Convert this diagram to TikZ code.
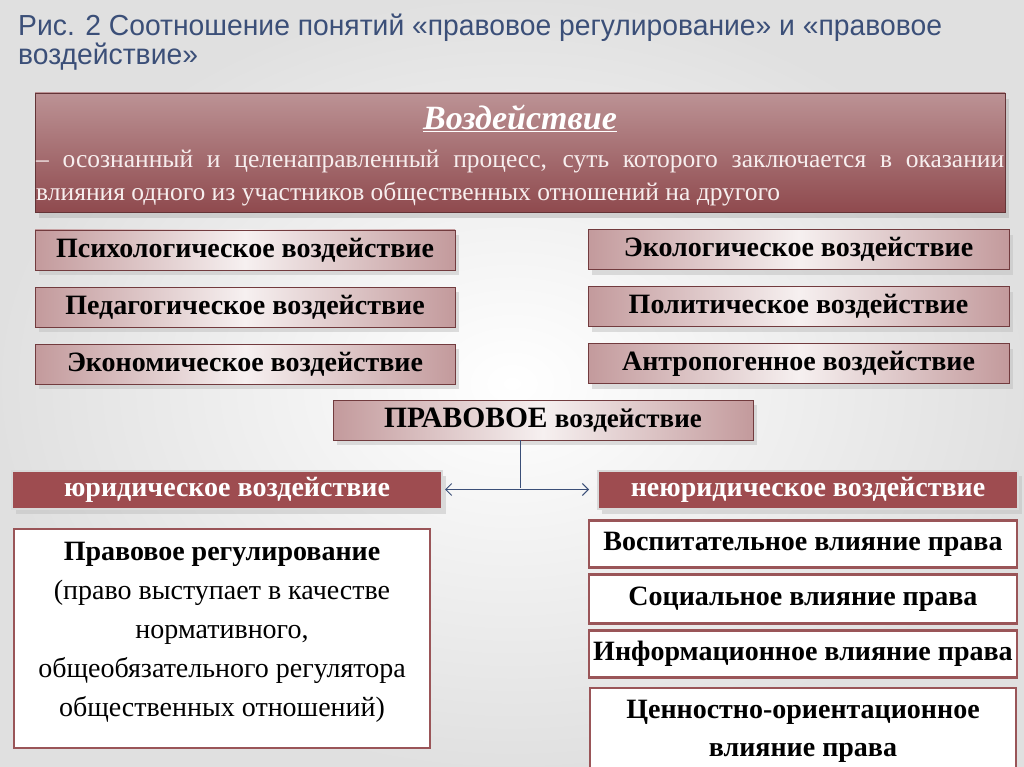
\documentclass[tikz,border=0pt]{standalone}
\usepackage{fontspec}
\setmainfont{Liberation Serif}
\newfontfamily\titlefont[FakeStretch=0.975]{Liberation Sans}
\usepackage{tikz}
\usetikzlibrary{arrows.meta}
\usetikzlibrary{shadows, calc}

\definecolor{titleblue}{HTML}{3B4F78}
\definecolor{rosedark}{HTML}{8F4A4E}
\definecolor{roseedge}{HTML}{C39A9C}
\definecolor{roselight}{HTML}{F6F0F0}
\definecolor{jurred}{HTML}{9E4C50}
\definecolor{frame}{HTML}{9A5558}
\definecolor{bodytext}{HTML}{F7EEEE}

\tikzset{
    kindbox/.style={draw=rosedark!80!black, line width=0.8pt,
        left color=roseedge, right color=roseedge, middle color=roselight,
        minimum height=40pt, inner sep=0pt,
        font=\fontsize{28}{30}\selectfont\bfseries,
        drop shadow={shadow xshift=4pt, shadow yshift=-5pt, fill=black!25}},
    branchbox/.style={draw=white!85!black, line width=2pt, fill=jurred,
        minimum height=38pt, inner sep=0pt, text=white,
        font=\fontsize{28}{30}\selectfont\bfseries,
        drop shadow={shadow xshift=4pt, shadow yshift=-5pt, fill=black!25}},
    effectbox/.style={draw=frame, line width=2.5pt, fill=white,
        inner sep=0pt, font=\fontsize{28}{30}\selectfont\bfseries},
    captionline/.style={anchor=base west, text=titleblue, inner sep=0pt,
        font=\titlefont\fontsize{29}{31}\selectfont},
}

\begin{document}
\begin{tikzpicture}[x=1pt, y=-1pt]
    % background
    \shade[inner color=white, outer color=black!12] (0,0) rectangle (1024,767);
    \useasboundingbox (0,0) rectangle (1024,767);

    % caption
    \node[captionline] (caption) at (18,36)
        {Рис. 2 Соотношение понятий «правовое регулирование» и «правовое};
    \node[captionline] (captiontail) at (18,65) {воздействие»};

    % definition
    \node[draw=rosedark!70!black, line width=0.8pt, minimum width=970pt, minimum height=119pt,
          top color=rosedark!60!white, bottom color=rosedark, inner sep=0pt,
          drop shadow={shadow xshift=4pt, shadow yshift=-6pt, fill=black!30}] (defbox) at (520,152.5) {};
    \node[text=white, font=\fontsize{34}{36}\selectfont\bfseries\itshape] (defhead) at (520,118)
        {\underline{Воздействие}};
    \node[text=bodytext, text width=968pt, align=justify, inner sep=0pt, anchor=north west,
          font=\fontsize{25.5}{33}\selectfont] (deftext) at (36,150)
        {– осознанный и целенаправленный процесс, суть которого заключается в оказании\linebreak влияния одного из участников общественных отношений на другого};

    % kinds of influence
    \node[kindbox, minimum width=420pt] (psy) at (245,250) {Психологическое воздействие};
    \node[kindbox, minimum width=420pt] (ped) at (245,307) {Педагогическое воздействие};
    \node[kindbox, minimum width=420pt] (econ) at (245,364) {Экономическое воздействие};
    \node[kindbox, minimum width=421pt] (ecol) at (798.5,249.5) {Экологическое воздействие};
    \node[kindbox, minimum width=421pt] (pol) at (798.5,306.5) {Политическое воздействие};
    \node[kindbox, minimum width=421pt] (anthro) at (798.5,363.5) {Антропогенное воздействие};

    \node[kindbox, minimum width=420pt, font=\fontsize{29.5}{30}\selectfont\bfseries] (legal) at (543,420)
        {ПРАВОВОЕ \fontsize{27}{30}\selectfont воздействие};

    % branches
    \node[branchbox, minimum width=430pt] (jur) at (227,489.5) {юридическое воздействие};
    \node[branchbox, minimum width=420pt] (nonjur) at (808,489.5) {неюридическое воздействие};

    \coordinate (fork) at (520,488);
    \draw[titleblue, line width=1pt] (fork |- legal.south) -- (fork);
    \draw[titleblue, line width=1pt, {Straight Barb[length=6pt, width=12pt]}-{Straight Barb[length=6pt, width=12pt]},
          shorten <=2pt, shorten >=8pt] (jur.east) -- (nonjur.west);

    % legal side
    \node[effectbox, minimum width=416pt, minimum height=219pt] (reg) at (222,638.5) {};
    \node[align=center, inner sep=0pt, font=\fontsize{28}{39}\selectfont] (regtext) at ($(reg.center)+(0,-6)$)
        {\textbf{Правовое регулирование}\\(право выступает в качестве\\нормативного,\\общеобязательного регулятора\\общественных отношений)};

    % non-legal side
    \node[effectbox, minimum width=428pt, minimum height=47pt] (edu) at (803,544) {Воспитательное влияние права};
    \node[effectbox, minimum width=428pt, minimum height=49pt] (soc) at (803,599) {Социальное влияние права};
    \node[effectbox, minimum width=428pt, minimum height=47pt] (info) at (803,654) {Информационное влияние права};
    \node[effectbox, minimum width=426pt, minimum height=80pt] (value) at (803,728) {};
    \node[align=center, inner sep=0pt, font=\fontsize{28}{38}\selectfont\bfseries] (valuetext) at ($(value.center)+(0,3)$)
        {Ценностно-ориентационное\\влияние права};
\end{tikzpicture}
\end{document}
